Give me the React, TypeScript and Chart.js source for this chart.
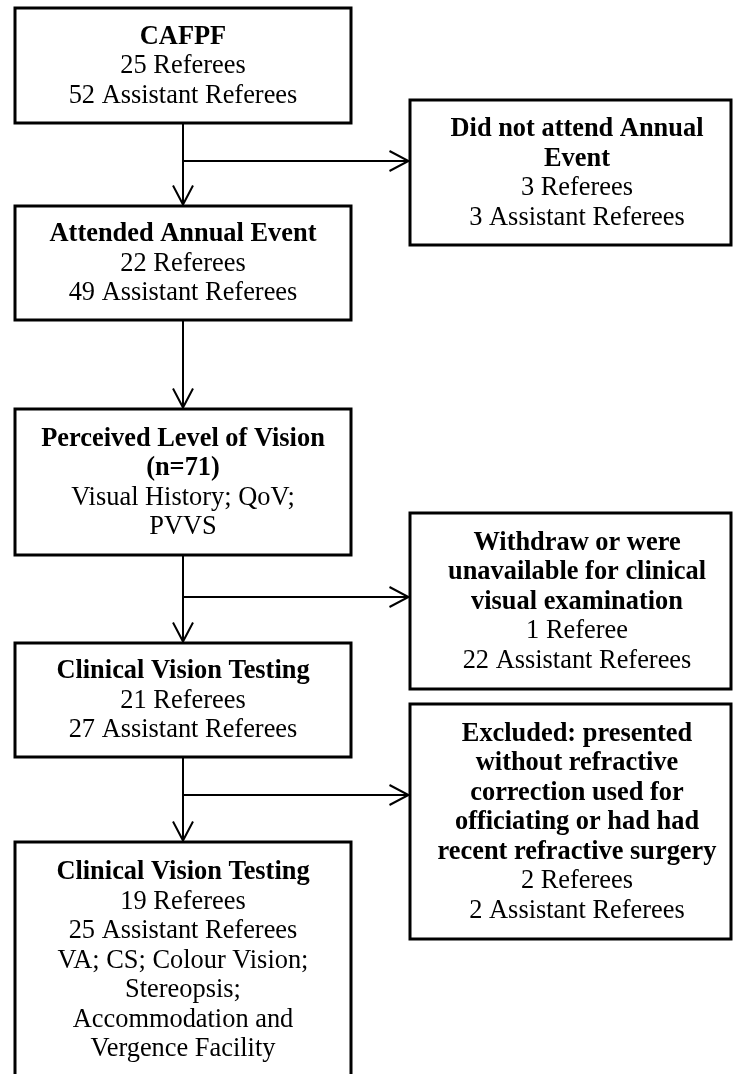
import React, { useEffect, useRef } from 'react';
import { Chart, registerables } from 'chart.js';

Chart.register(...registerables);

// ---- flowchart content ----
const boxLines: string[][] = [
  ['CAFPF', '25 Referees', '52 Assistant Referees'],
  ['Did not attend Annual', 'Event', '3 Referees', '3 Assistant Referees'],
  ['Attended Annual Event', '22 Referees', '49 Assistant Referees'],
  ['Perceived Level of Vision', '(n=71)', 'Visual History; QoV;', 'PVVS'],
  ['Withdraw or were', 'unavailable for clinical', 'visual examination', '1 Referee', '22 Assistant Referees'],
  ['Clinical Vision Testing', '21 Referees', '27 Assistant Referees'],
  ['Excluded: presented', 'without refractive', 'correction used for', 'officiating or had had', 'recent refractive surgery', '2 Referees', '2 Assistant Referees'],
  ['Clinical Vision Testing', '19 Referees', '25 Assistant Referees', 'VA; CS; Colour Vision;', 'Stereopsis;', 'Accommodation and', 'Vergence Facility'],
];
const boxBoldLines = [1, 2, 1, 2, 3, 1, 5, 1];
const boxColumn = [0, 1, 0, 0, 1, 0, 1, 0];

// ---- layout in chart units (x 0..734, y 0..1074 downward) ----
const columnLeft = [15, 410];
const columnRight = [351, 731];
const columnTextX = [183, 577];
const boxTop = [8, 100, 206, 409, 513, 643, 704, 842];
const boxBottom = [123, 245, 320, 555, 689, 757, 939, 1078];
const stemX = 183;
const downLinks = [[0, 2], [2, 3], [3, 5], [5, 7]];
const sideLinks = [[0, 1], [3, 4], [5, 6]];
const sideLinkY = [161, 597, 795];
const lineStep = 29.5;
const headLen = 19;
const headHalf = 10;

function buildDatasets() {
  const ds: any[] = [];
  const base = {
    showLine: true,
    pointRadius: 0,
    pointHoverRadius: 0,
    borderColor: '#000',
    fill: false,
    tension: 0,
    clip: false,
    borderJoinStyle: 'miter',
  };
  boxLines.forEach((_, i) => {
    const l = columnLeft[boxColumn[i]];
    const r = columnRight[boxColumn[i]];
    const t = boxTop[i];
    const b = boxBottom[i];
    ds.push({
      ...base,
      label: 'box' + i,
      borderWidth: 3,
      borderCapStyle: 'square',
      data: [
        { x: l, y: t }, { x: r, y: t }, { x: r, y: b }, { x: l, y: b }, { x: l, y: t },
      ],
    });
  });
  downLinks.forEach(([a, b], k) => {
    const tip = boxTop[b] - 1.5;
    ds.push({
      ...base,
      label: 'down' + k,
      borderWidth: 2,
      data: [{ x: stemX, y: boxBottom[a] }, { x: stemX, y: tip }],
    });
    ds.push({
      ...base,
      label: 'downHead' + k,
      borderWidth: 2,
      data: [
        { x: stemX - headHalf, y: tip - headLen },
        { x: stemX, y: tip },
        { x: stemX + headHalf, y: tip - headLen },
      ],
    });
  });
  sideLinks.forEach(([, b], k) => {
    const y = sideLinkY[k];
    const tip = columnLeft[boxColumn[b]] - 1.5;
    ds.push({
      ...base,
      label: 'side' + k,
      borderWidth: 2,
      data: [{ x: stemX, y }, { x: tip, y }],
    });
    ds.push({
      ...base,
      label: 'sideHead' + k,
      borderWidth: 2,
      data: [
        { x: tip - headLen, y: y - headHalf },
        { x: tip, y },
        { x: tip - headLen, y: y + headHalf },
      ],
    });
  });
  return ds;
}

const textPlugin = {
  id: 'boxText',
  afterDatasetsDraw(chart: any) {
    const { ctx } = chart;
    const xs = chart.scales.x;
    const ys = chart.scales.y;
    const step = ys.getPixelForValue(lineStep) - ys.getPixelForValue(0);
    ctx.save();
    ctx.fillStyle = '#000';
    ctx.textAlign = 'center';
    ctx.textBaseline = 'middle';
    boxLines.forEach((lines, i) => {
      const cx = xs.getPixelForValue(columnTextX[boxColumn[i]]);
      const cy = (ys.getPixelForValue(boxTop[i]) + ys.getPixelForValue(boxBottom[i])) / 2 + 1;
      const start = cy - ((lines.length - 1) / 2) * step;
      lines.forEach((txt, j) => {
        ctx.font = (j < boxBoldLines[i] ? 'bold ' : '') + '26.4px "Liberation Serif", "Times New Roman", serif';
        ctx.fillText(txt, cx, start + j * step);
      });
    });
    ctx.restore();
  },
};

export default function App() {
  const ref = useRef<HTMLCanvasElement | null>(null);
  useEffect(() => {
    if (!ref.current) return;
    const chart = new Chart(ref.current, {
      type: 'scatter',
      data: { datasets: buildDatasets() },
      options: {
        animation: false,
        responsive: false,
        devicePixelRatio: 1,
        layout: { padding: 0 },
        events: [],
        plugins: { legend: { display: false }, tooltip: { enabled: false } },
        scales: {
          x: { type: 'linear', min: 0, max: 734, display: false },
          y: { type: 'linear', min: 0, max: 1074, reverse: true, display: false },
        },
      } as any,
      plugins: [textPlugin],
    });
    return () => chart.destroy();
  }, []);
  return (
    <div style={{ position: 'absolute', left: 0, top: 0, width: 734, height: 1074, background: '#fff' }}>
      <canvas ref={ref} width={734} height={1074} style={{ display: 'block', width: 734, height: 1074 }} />
    </div>
  );
}
